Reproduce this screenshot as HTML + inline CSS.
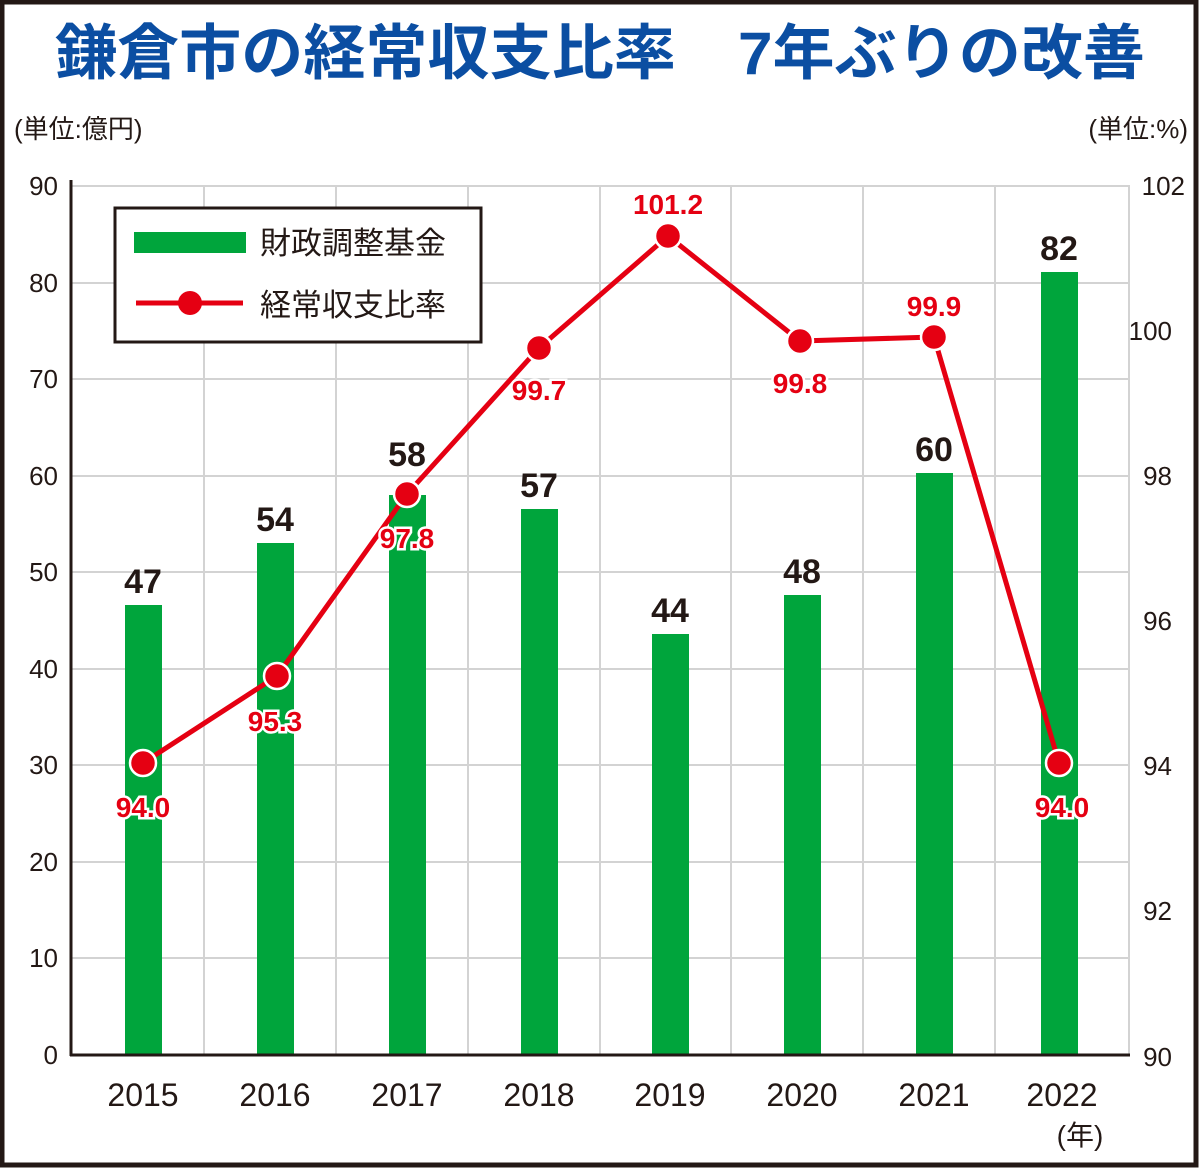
<!DOCTYPE html>
<html><head><meta charset="utf-8"><style>
html,body{margin:0;padding:0;background:#fff}
svg{display:block}
text{font-family:"Liberation Sans","Noto Sans CJK JP",sans-serif}
</style></head><body>
<svg width="1200" height="1169" viewBox="0 0 1200 1169" xmlns="http://www.w3.org/2000/svg">
<rect x="2" y="2" width="1194" height="1163" fill="#fff" stroke="#231815" stroke-width="5"/>
<text x="55" y="74" textLength="1090" lengthAdjust="spacingAndGlyphs" font-size="60" font-weight="bold" fill="#0b4ea2">鎌倉市の経常収支比率　7年ぶりの改善</text>
<text x="14" y="138" font-size="26" fill="#231815">(単位:億円)</text>
<text x="1188" y="138" font-size="26" fill="#231815" text-anchor="end">(単位:%)</text>
<g stroke="#d3d3d3" stroke-width="2">
<line x1="70" y1="186" x2="1130" y2="186"/><line x1="70" y1="283" x2="1130" y2="283"/><line x1="70" y1="379" x2="1130" y2="379"/><line x1="70" y1="476" x2="1130" y2="476"/><line x1="70" y1="572" x2="1130" y2="572"/><line x1="70" y1="669" x2="1130" y2="669"/><line x1="70" y1="765" x2="1130" y2="765"/><line x1="70" y1="862" x2="1130" y2="862"/><line x1="70" y1="958" x2="1130" y2="958"/>
<line x1="204" y1="186" x2="204" y2="1055"/><line x1="336" y1="186" x2="336" y2="1055"/><line x1="468" y1="186" x2="468" y2="1055"/><line x1="600" y1="186" x2="600" y2="1055"/><line x1="731" y1="186" x2="731" y2="1055"/><line x1="863" y1="186" x2="863" y2="1055"/><line x1="995" y1="186" x2="995" y2="1055"/><line x1="1129" y1="186" x2="1129" y2="1055"/>
</g>
<g fill="#00a53c">
<rect x="125" y="605" width="37" height="450"/><rect x="257" y="543" width="37" height="512"/><rect x="389" y="495" width="37" height="560"/><rect x="521" y="509" width="37" height="546"/><rect x="652" y="634" width="37" height="421"/><rect x="784" y="595" width="37" height="460"/><rect x="916" y="473" width="37" height="582"/><rect x="1041" y="272" width="37" height="783"/>
</g>
<line x1="71" y1="180" x2="71" y2="1056" stroke="#231815" stroke-width="3"/>
<line x1="70" y1="1055" x2="1130" y2="1055" stroke="#231815" stroke-width="3"/>
<g font-size="26" fill="#231815" text-anchor="end">
<text x="58" y="195">90</text><text x="58" y="292">80</text><text x="58" y="388">70</text><text x="58" y="485">60</text><text x="58" y="581">50</text><text x="58" y="678">40</text><text x="58" y="774">30</text><text x="58" y="871">20</text><text x="58" y="967">10</text><text x="58" y="1064">0</text>
</g>
<g font-size="26" fill="#231815" text-anchor="end">
<text x="1185" y="195">102</text><text x="1172" y="340">100</text><text x="1172" y="485">98</text><text x="1172" y="630">96</text><text x="1172" y="775">94</text><text x="1172" y="920">92</text><text x="1172" y="1066">90</text>
</g>
<g font-size="32" fill="#231815" text-anchor="middle">
<text x="143" y="1106">2015</text><text x="275" y="1106">2016</text><text x="407" y="1106">2017</text><text x="539" y="1106">2018</text><text x="670" y="1106">2019</text><text x="802" y="1106">2020</text><text x="934" y="1106">2021</text><text x="1062" y="1106">2022</text>
<text x="1080" y="1145" font-size="28">(年)</text>
</g>
<g font-size="34" font-weight="bold" fill="#231815" text-anchor="middle">
<text x="143" y="593">47</text><text x="275" y="531">54</text><text x="407" y="466">58</text><text x="539" y="497">57</text><text x="670" y="622">44</text><text x="802" y="583">48</text><text x="934" y="461">60</text><text x="1059" y="260">82</text>
</g>
<polyline points="143,763 277,676 407,494 539,348 668,236 800,341 934,337 1059,763" fill="none" stroke="#e50012" stroke-width="5" stroke-linejoin="round"/>
<g fill="#e50012" stroke="#fff" stroke-width="2.5">
<circle cx="143" cy="763" r="13"/><circle cx="277" cy="676" r="13"/><circle cx="407" cy="494" r="13"/><circle cx="539" cy="348" r="13"/><circle cx="668" cy="236" r="13"/><circle cx="800" cy="341" r="13"/><circle cx="934" cy="337" r="13"/><circle cx="1059" cy="763" r="13"/>
</g>
<g font-size="28" font-weight="bold" fill="#e50012" stroke="#fff" stroke-width="5" paint-order="stroke" text-anchor="middle">
<text x="143" y="817">94.0</text><text x="275" y="731">95.3</text><text x="407" y="548">97.8</text><text x="539" y="400">99.7</text><text x="668" y="214">101.2</text><text x="800" y="393">99.8</text><text x="934" y="316">99.9</text><text x="1062" y="817">94.0</text>
</g>
<rect x="115" y="208" width="366" height="134" fill="#fff" stroke="#231815" stroke-width="3"/>
<rect x="134" y="232" width="112" height="21" fill="#00a53c"/>
<line x1="136" y1="303" x2="243" y2="303" stroke="#e50012" stroke-width="5"/>
<circle cx="190" cy="303" r="12" fill="#e50012"/>
<text x="260" y="254" font-size="31" fill="#231815">財政調整基金</text>
<text x="260" y="316" font-size="31" fill="#231815">経常収支比率</text>
</svg>
</body></html>
